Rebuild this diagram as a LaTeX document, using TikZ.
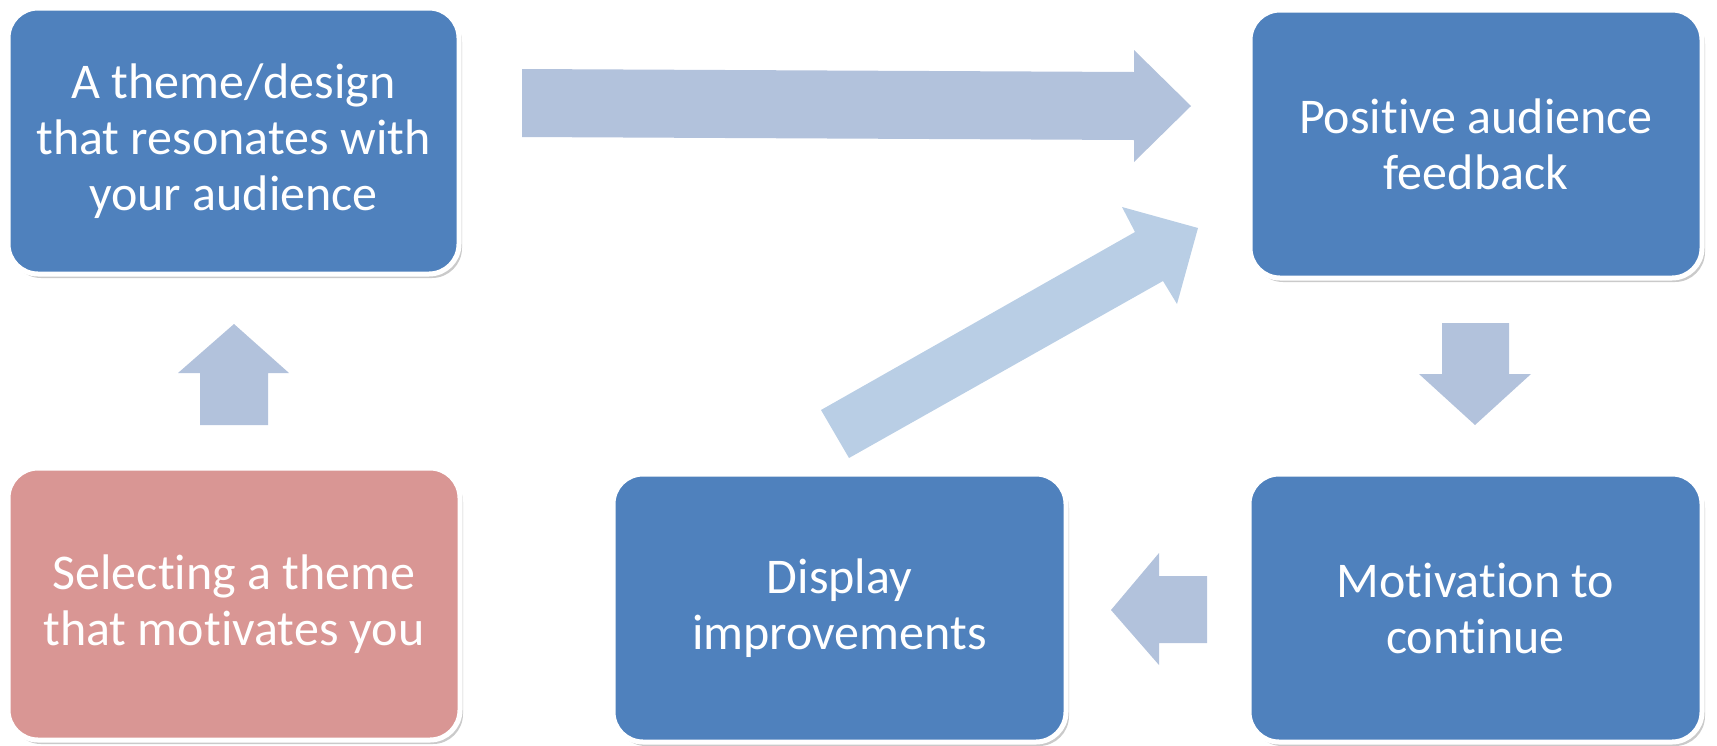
\documentclass[tikz,border=0pt]{standalone}
\usepackage{fontspec}
\setmainfont{Carlito}[Ligatures=NoCommon]
\usetikzlibrary{shadows}
\definecolor{boxblue}{HTML}{4F81BD}
\definecolor{boxpink}{HTML}{D99694}
\definecolor{arrowblue}{HTML}{B2C2DC}
\definecolor{arrowlight}{HTML}{B9CEE5}
\tikzset{
  card/.style={rectangle, rounded corners=30pt, draw=white, line width=5pt,
    fill=boxblue, text=white, align=center, inner sep=0pt,
    font=\fontsize{50}{56}\selectfont,
    drop shadow={shadow xshift=3pt, shadow yshift=-4pt, opacity=0.35, fill=black!60}},
  pinkcard/.style={card, fill=boxpink},
  blockarrow/.style={fill=arrowblue, draw=none},
  diagarrow/.style={fill=arrowlight, draw=none}
}
\begin{document}
\begin{tikzpicture}[x=1pt,y=-1pt]
\useasboundingbox (0,0) rectangle (1717,745);
\node[card, minimum width=451pt, minimum height=266pt] (theme) at (233.5,141) {A theme/design\\that resonates with\\your audience};
\node[card, minimum width=452pt, minimum height=268pt] (positive) at (1476,144) {Positive audience\\feedback};
\node[pinkcard, minimum width=452pt, minimum height=272pt] (select) at (234,604) {Selecting a theme\\that motivates you};
\node[card, minimum width=453pt, minimum height=268pt] (display) at (839.5,608) {Display\\improvements};
\node[card, minimum width=453pt, minimum height=268pt] (motiv) at (1475.5,608) {Motivation to\\continue};
% block arrows
\fill[blockarrow] (522,69) -- (1134,72) -- (1134,50) -- (1191,106) -- (1134,162) -- (1134,140) -- (522,137) -- cycle;
\fill[diagarrow] (821,410) -- (1135,232) -- (1122,207) -- (1198,228) -- (1177,304) -- (1163,281) -- (849,458) -- cycle;
\fill[blockarrow] (1111,610) -- (1159,553) -- (1159,576) -- (1207,576) -- (1207,643) -- (1159,643) -- (1159,665) -- cycle;
\fill[blockarrow] (234,324) -- (289,373) -- (268,373) -- (268,425) -- (200,425) -- (200,373) -- (178,373) -- cycle;
\fill[blockarrow] (1442,323) -- (1509,323) -- (1509,374) -- (1531,374) -- (1475,425) -- (1419,374) -- (1442,374) -- cycle;
\end{tikzpicture}
\end{document}
